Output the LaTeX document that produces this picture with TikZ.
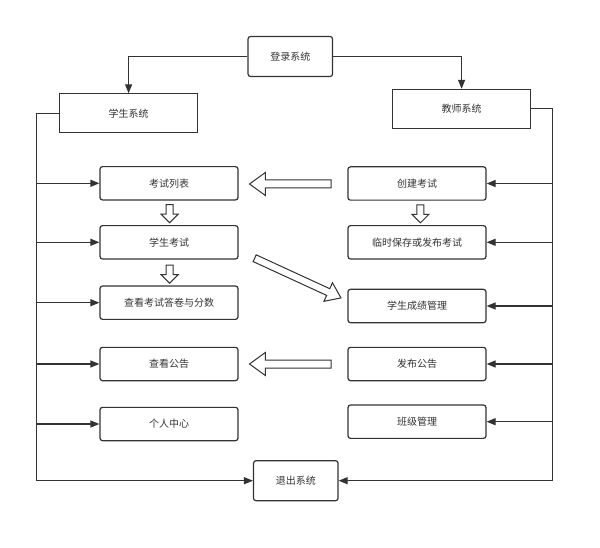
\documentclass[tikz,border=0pt]{standalone}
\usepackage{fontspec}
\setmainfont{Noto Sans CJK SC}
\usetikzlibrary{arrows.meta, positioning, calc, shapes.arrows}
\definecolor{linegray}{HTML}{333333}

\begin{document}
\begin{tikzpicture}[
	x=1pt, y=-1pt,
	font=\fontsize{10}{12}\selectfont,
	MyBox/.style={rectangle, draw=linegray, line width=1.2pt, rounded corners=2.5pt,
		fill=white, text=linegray, minimum width=138pt, minimum height=33.3pt, inner sep=0pt},
	SysBox/.style={MyBox, rounded corners=0pt, minimum height=38.8pt},
	EndBox/.style={MyBox, minimum width=84.5pt, minimum height=40pt},
	MyArrow/.style={draw=linegray, line width=1.2pt, -{Triangle[length=9pt,width=7pt]}},
	Hollow/.style={single arrow, draw=linegray, line width=1pt, fill=white,
		inner sep=3.5pt, single arrow head extend=7.5pt, single arrow tip angle=72},
	SmallHollow/.style={Hollow, inner sep=3pt, single arrow head extend=5pt,
		single arrow tip angle=90, minimum height=18pt}
	]

\useasboundingbox [fill=white] (0,0) rectangle (600,548);

\node [EndBox] (login) at (290.3,56.5) {登录系统};
\node [SysBox] (stu) at (128.6,113.3) {学生系统};
\node [SysBox] (tea) at (461.6,108.8) {教师系统};

% student side
\node [MyBox] (list) at (169,183.3) {考试列表};
\node [MyBox] (exam) at (169,242.3) {学生考试};
\node [MyBox] (paper) at (169,302.7) {查看考试答卷与分数};
\node [MyBox] (notice) at (169,364) {查看公告};
\node [MyBox] (mine) at (169,424) {个人中心};

% teacher side
\node [MyBox] (create) at (417,183.5) {创建考试};
\node [MyBox] (save) at (417,242.3) {临时保存或发布考试};
\node [MyBox] (grade) at (417,306) {学生成绩管理};
\node [MyBox] (publish) at (417,364) {发布公告};
\node [MyBox] (cls) at (417,421.7) {班级管理};

\node [EndBox] (quit) at (295.8,480.7) {退出系统};

\coordinate (lbus) at (36.8,0);
\coordinate (rbus) at (552.5,0);

\draw [MyArrow] (login.west) -| (stu.north);
\draw [MyArrow] (login.east) -| (tea.north);

\draw [MyArrow] (stu.west) -- (stu.west -| lbus) |- (quit.west);
\foreach \n in {list, exam, paper, notice, mine}
	\draw [MyArrow] (\n.west -| lbus) -- (\n.west);

\draw [MyArrow] (tea.east) -- (tea.east -| rbus) |- (quit.east);
\foreach \n in {create, save, grade, publish, cls}
	\draw [MyArrow] (\n.east -| rbus) -- (\n.east);

% hollow arrows
\node [Hollow, minimum height=81.5pt, shape border rotate=180] (createtolist)
	at ($(list.east)!0.5!(create.west)+(0,0.6)$) {};
\node [Hollow, minimum height=81.5pt, shape border rotate=180] (publishtonotice)
	at ($(notice.east)!0.5!(publish.west)$) {};
\node [SmallHollow, shape border rotate=270] (listtoexam)
	at ($(list.south)!0.5!(exam.north)+(0.7,-0.8)$) {};
\node [SmallHollow, shape border rotate=270] (examtopaper)
	at ($(exam.south)!0.5!(paper.north)+(0.7,0)$) {};
\node [SmallHollow, shape border rotate=270] (createtosave)
	at ($(create.south)!0.5!(save.north)+(3.4,-0.8)$) {};
\node [Hollow, minimum height=95pt, inner sep=3.2pt, single arrow head extend=6.5pt,
	rotate=-24.7] (examtograde)
	at (295.5,277) {};

\end{tikzpicture}
\end{document}
